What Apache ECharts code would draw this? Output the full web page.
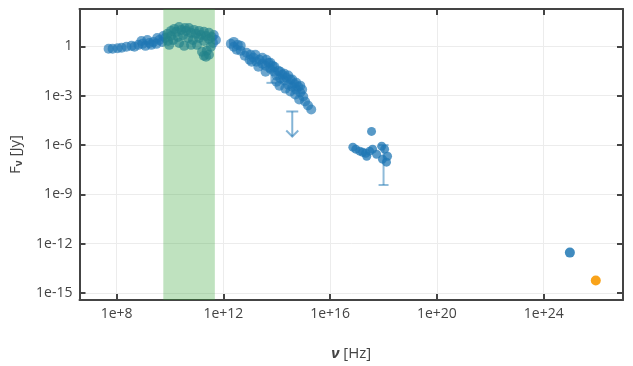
<!DOCTYPE html>
<html>
<head>
<meta charset="utf-8">
<script src="https://cdn.jsdelivr.net/npm/echarts@6/dist/echarts.min.js"></script>
<style>
  html, body { margin: 0; padding: 0; background: #fff; }
  #chart { width: 633px; height: 366px; }
</style>
</head>
<body>
<div id="chart"></div>
<script>
// Spectral energy distribution, stored as log10 of frequency [Hz] and flux density [Jy]

// Radio / mm photometry
const radioLogNu = [7.70, 7.85, 8.04, 8.19, 8.37, 8.56, 8.67, 8.82, 8.97, 9.08, 9.23, 9.38, 9.49, 9.60,
  9.71, 9.82, 9.93, 10.04, 10.12, 10.23, 10.30, 10.42, 10.49, 10.60, 10.68, 10.79, 10.86, 10.97, 11.09,
  11.16, 11.27, 11.35, 11.46, 11.57, 11.61, 11.38, 11.20, 11.01, 10.34, 9.97, 10.16, 10.56,
  8.93, 9.15, 9.30, 9.52, 9.75, 9.90, 10.04, 10.34, 10.71, 10.90, 11.09, 11.27, 11.46, 11.64, 11.72,
  10.79, 10.53, 11.53, 11.27, 11.46, 11.35];
const radioLogF = [-0.15, -0.15, -0.12, -0.09, -0.03, 0.03, -0.03, 0.09, 0.15, 0.03, 0.21, 0.27, 0.15, 0.39,
  0.27, 0.51, 0.33, 0.63, 0.39, 0.88, 0.57, 1.00, 0.69, 0.94, 0.51, 0.82, 0.39, 0.76, 0.51,
  0.69, 0.33, 0.63, 0.45, 0.57, 0.21, -0.27, -0.33, 0.09, 0.21, 0.09, 1.06, 1.12,
  0.33, 0.39, 0.09, 0.51, 0.63, 0.76, 0.94, 1.18, 1.12, 1.00, 0.94, 0.88, 0.82, 0.69, 0.39,
  0.09, 0.03, -0.03, -0.57, -0.51, -0.63];

// Infrared / optical photometry
const irLogNu = [12.28, 12.39, 12.54, 12.50, 12.65, 12.87, 13.02, 13.13, 13.06, 13.24, 13.35, 13.46, 13.58,
  13.69, 13.76, 13.84, 13.91, 13.99, 14.06, 14.13, 14.21, 14.28, 14.36, 14.43, 14.51, 14.58, 14.65, 14.73,
  14.80, 14.88, 14.95, 14.99, 15.06, 15.17, 15.29, 14.10, 14.32, 13.58,
  12.80, 12.98, 13.20, 13.31, 13.46, 13.61, 13.76, 13.91, 13.99, 14.13, 14.28, 14.43, 14.58, 14.73,
  14.88, 14.51, 14.69, 14.84, 12.39, 12.65];
const irLogF = [0.15, -0.03, 0.09, -0.21, -0.27, -0.39, -0.51, -0.69, -0.94, -0.94, -0.82, -1.06, -1.18,
  -1.00, -1.36, -1.18, -1.54, -1.78, -1.48, -1.96, -1.72, -2.08, -1.90, -2.33, -2.02, -2.45, -2.27, -2.63,
  -2.45, -2.81, -2.63, -3.05, -3.35, -3.60, -3.84, -2.39, -2.57, -1.54,
  -0.57, -0.82, -0.51, -1.24, -0.69, -0.82, -1.00, -1.24, -2.15, -1.54, -1.66, -1.78, -2.02, -2.21,
  -2.39, -2.75, -2.93, -3.23, 0.27, 0.03];

// X-ray photometry
const xrayLogNu = [16.85, 16.96, 17.11, 17.22, 17.37, 17.48, 17.59, 17.55, 17.74, 17.93, 17.96, 18.04, 18.15, 18.11, 17.33];
const xrayLogF = [-6.13, -6.25, -6.37, -6.44, -6.68, -6.37, -6.25, -5.17, -6.56, -6.07, -6.86, -6.25, -6.68, -7.04, -6.50];

// Gamma-ray detections
const gammaLogNu = [24.98];
const gammaLogF = [-12.54];
const vhePointLogNu = [25.95];
const vhePointLogF = [-14.23];

// Vertical error bars: [log nu, log F low, log F high]
const errorBars = [[13.80, -2.22, -1.50], [18.00, -8.43, -6.00]];

// Upper limits: [log nu, log F]
const upperLimits = [[14.58, -3.96]];

// Highlighted frequency window (log nu start, end)
const bandWindow = [9.75, 11.68];

// Axis extents and tick positions (log10 units)
const xRange = [6.61, 26.97];
const yRange = [-15.42, 2.27];
const xTicks = [8, 12, 16, 20, 24];
const yTicks = [-15, -12, -9, -6, -3, 0];

const zip = (a, b) => a.map((v, i) => [v, b[i]]);

const blue = '#1f77b4';
const errColor = 'rgba(31,119,180,0.5)';
const axisColor = '#444';
const fontFamily = '"Open Sans", "Noto Sans", sans-serif';

const fmtX = v => '1e+' + v;
const fmtY = v => (v === 0 ? '1' : '1e' + v);

const chart = echarts.init(document.getElementById('chart'), null, { renderer: 'canvas' });

const baseX = {
  type: 'value', min: xRange[0], max: xRange[1],
  axisLine: { show: true, onZero: false, lineStyle: { color: axisColor, width: 2 } },
  axisTick: { show: true, inside: true, length: 6, customValues: xTicks, lineStyle: { color: axisColor, width: 2 } }
};
const baseY = {
  type: 'value', min: yRange[0], max: yRange[1],
  axisLine: { show: true, onZero: false, lineStyle: { color: axisColor, width: 2 } },
  axisTick: { show: true, inside: true, length: 6, customValues: yTicks, lineStyle: { color: axisColor, width: 2 } }
};

chart.setOption({
  animation: false,
  backgroundColor: '#fff',
  grid: { left: 78, right: 10, top: 9, bottom: 64, containLabel: false },
  xAxis: [
    Object.assign({}, baseX, {
      position: 'bottom',
      name: '{nu|ν} [Hz]',
      nameLocation: 'middle',
      nameGap: 46,
      nameTextStyle: {
        color: axisColor, fontSize: 15, fontFamily: fontFamily,
        rich: { nu: { color: axisColor, fontSize: 15, fontFamily: fontFamily, fontWeight: 'bold', fontStyle: 'italic' } }
      },
      axisLabel: { show: true, customValues: xTicks, formatter: fmtX, color: axisColor, fontSize: 14, fontFamily: fontFamily, margin: 7 },
      splitLine: { show: true, lineStyle: { color: '#ececec', width: 1 } }
    }),
    Object.assign({}, baseX, {
      position: 'top',
      axisLabel: { show: false },
      splitLine: { show: false }
    })
  ],
  yAxis: [
    Object.assign({}, baseY, {
      position: 'left',
      name: '{f|F}{sub|ν} [Jy]',
      nameLocation: 'middle',
      nameGap: 55,
      nameRotate: 90,
      nameTextStyle: {
        color: axisColor, fontSize: 15, fontFamily: fontFamily,
        rich: {
          f: { color: axisColor, fontSize: 15, fontFamily: fontFamily },
          sub: { color: axisColor, fontSize: 10, fontFamily: fontFamily, fontWeight: 'bold', padding: [8, 0, 0, 0] }
        }
      },
      axisLabel: { show: true, customValues: yTicks, formatter: fmtY, color: axisColor, fontSize: 14, fontFamily: fontFamily, margin: 7 },
      splitLine: { show: true, lineStyle: { color: '#ececec', width: 1 } }
    }),
    Object.assign({}, baseY, {
      position: 'right',
      axisLabel: { show: false },
      splitLine: { show: false }
    })
  ],
  series: [
    {
      type: 'custom',
      name: 'errors',
      z: 2,
      data: errorBars,
      renderItem: function (params, api) {
        const top = api.coord([api.value(0), api.value(2)]);
        const bot = api.coord([api.value(0), api.value(1)]);
        const cap = 5;
        const st = { stroke: errColor, lineWidth: 2 };
        return {
          type: 'group',
          children: [
            { type: 'line', shape: { x1: top[0], y1: top[1], x2: bot[0], y2: bot[1] }, style: st },
            { type: 'line', shape: { x1: top[0] - cap, y1: top[1], x2: top[0] + cap, y2: top[1] }, style: st },
            { type: 'line', shape: { x1: bot[0] - cap, y1: bot[1], x2: bot[0] + cap, y2: bot[1] }, style: st }
          ]
        };
      }
    },
    {
      type: 'custom',
      name: 'upper limits',
      z: 2,
      data: upperLimits,
      renderItem: function (params, api) {
        const p = api.coord([api.value(0), api.value(1)]);
        const len = 25, cap = 6, head = 6;
        const st = { stroke: 'rgba(31,119,180,0.55)', lineWidth: 2, fill: null };
        return {
          type: 'group',
          children: [
            { type: 'line', shape: { x1: p[0] - cap, y1: p[1], x2: p[0] + cap, y2: p[1] }, style: st },
            { type: 'line', shape: { x1: p[0], y1: p[1], x2: p[0], y2: p[1] + len }, style: st },
            { type: 'polyline', shape: { points: [[p[0] - head, p[1] + len - head], [p[0], p[1] + len], [p[0] + head, p[1] + len - head]] }, style: st }
          ]
        };
      }
    },
    {
      type: 'scatter', name: 'radio', z: 3,
      data: zip(radioLogNu, radioLogF),
      symbolSize: 10,
      itemStyle: { color: blue, opacity: 0.65 }
    },
    {
      type: 'scatter', name: 'ir', z: 3,
      data: zip(irLogNu, irLogF),
      symbolSize: 10,
      itemStyle: { color: blue, opacity: 0.65 }
    },
    {
      type: 'scatter', name: 'xray', z: 3,
      data: zip(xrayLogNu, xrayLogF),
      symbolSize: 9,
      itemStyle: { color: blue, opacity: 0.75 }
    },
    {
      type: 'scatter', name: 'gamma', z: 3,
      data: zip(gammaLogNu, gammaLogF),
      symbolSize: 10,
      itemStyle: { color: blue, opacity: 0.85 }
    },
    {
      type: 'scatter', name: 'vhe', z: 3,
      data: zip(vhePointLogNu, vhePointLogF),
      symbolSize: 10,
      itemStyle: { color: '#f9a31a', opacity: 1 }
    },
    {
      type: 'custom',
      name: 'band',
      z: 5,
      data: [bandWindow],
      renderItem: function (params, api) {
        const a = api.coord([api.value(0), yRange[1]]);
        const b = api.coord([api.value(1), yRange[0]]);
        return {
          type: 'rect',
          shape: { x: a[0], y: a[1], width: b[0] - a[0], height: b[1] - a[1] },
          style: { fill: 'rgba(44,160,44,0.3)' }
        };
      }
    }
  ]
});
</script>
</body>
</html>
